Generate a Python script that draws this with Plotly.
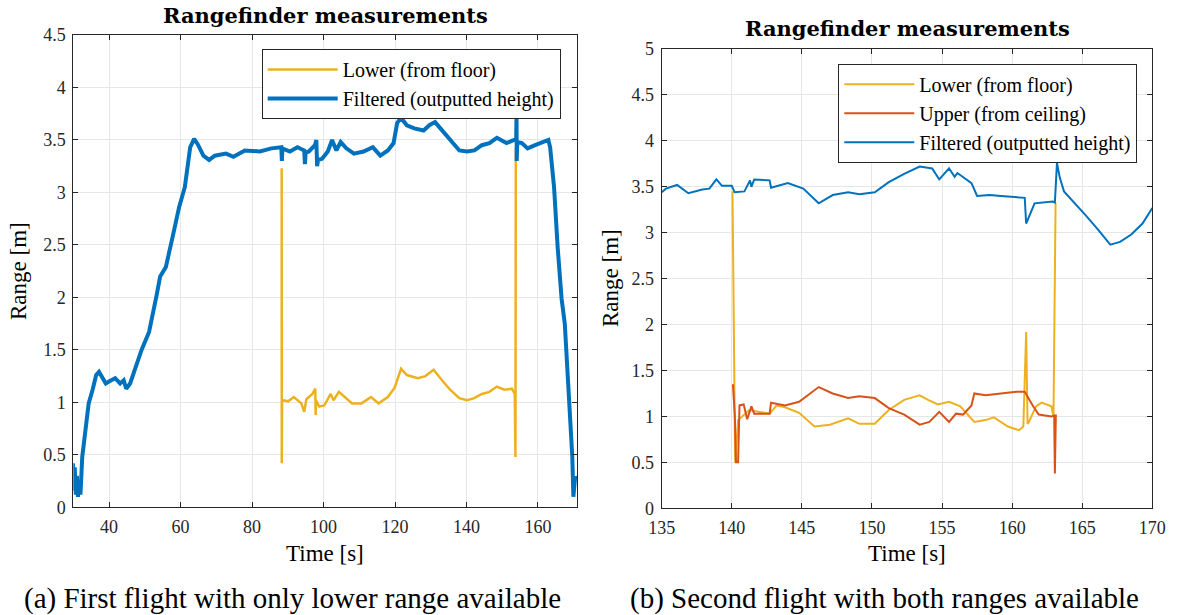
import plotly.graph_objects as go

W, H = 1178, 615

# ---------------- Flight (a): lower rangefinder only ----------------
t_a_filt = [29.9, 30.1, 30.4, 30.7, 31.0, 31.3, 31.7, 32.0, 32.5, 33.3, 34.3, 35.4, 36.4,
            37.2, 38.0, 39.1, 40.1, 41.7, 43.1, 44.1, 44.8, 45.9, 47.5, 49.1, 51.2, 52.2,
            53.3, 54.3, 55.9, 58.0, 59.6, 61.2, 62.7, 63.8, 64.8, 66.4, 68.0, 69.6, 72.7,
            74.8, 78.0, 82.2, 85.4, 88.2, 88.35, 88.5, 90.6, 92.7, 94.6, 94.8, 95.0, 95.9,
            97.6, 98.0, 98.2, 98.5, 99.6, 101.2, 102.4, 103.6, 104.8, 106.4, 108.5, 111.2,
            113.8, 115.9, 118.0, 119.6, 120.6, 121.7, 123.3, 125.4, 128.0, 129.6, 131.2,
            132.7, 135.4, 138.0, 140.1, 142.2, 144.3, 146.4, 148.5, 151.2, 153.3, 153.9,
            154.0, 154.05, 154.2, 155.5, 157.1, 159.2, 161.3, 162.9, 163.4, 164.5, 165.5,
            166.6, 167.5, 168.5, 169.6, 169.9, 170.4, 171.0]
h_a_filt = [0.42, 0.16, 0.38, 0.12, 0.30, 0.10, 0.25, 0.12, 0.48, 0.74, 0.99, 1.12, 1.26,
            1.29, 1.25, 1.18, 1.20, 1.23, 1.18, 1.21, 1.13, 1.18, 1.34, 1.50, 1.67, 1.82,
            2.02, 2.20, 2.29, 2.61, 2.86, 3.05, 3.43, 3.51, 3.46, 3.35, 3.31, 3.35, 3.37,
            3.34, 3.40, 3.39, 3.42, 3.43, 3.30, 3.42, 3.39, 3.43, 3.40, 3.27, 3.38, 3.39,
            3.45, 3.50, 3.25, 3.31, 3.32, 3.39, 3.50, 3.40, 3.48, 3.42, 3.37, 3.39,
            3.43, 3.35, 3.40, 3.47, 3.66, 3.71, 3.64, 3.61, 3.59, 3.64, 3.67,
            3.61, 3.50, 3.40, 3.39, 3.40, 3.45, 3.47, 3.52, 3.47, 3.50, 3.50,
            3.78, 3.30, 3.48, 3.47, 3.42, 3.45, 3.48, 3.50, 3.43, 3.05, 2.48,
            1.99, 1.75, 1.12, 0.48, 0.10, 0.29, 0.26]

t_a_low = [88.3, 88.32, 88.4, 88.7, 90.1, 91.7, 93.8, 94.6, 95.2, 96.9, 97.7, 97.8, 97.9,
           98.8, 100.2, 102.0, 102.8, 104.3, 105.9, 108.0, 110.6, 113.3, 115.4, 118.0,
           119.9, 121.7, 123.3, 126.4, 128.5, 130.8, 132.7, 135.4, 138.0, 140.1, 142.2,
           144.3, 146.4, 148.5, 150.6, 152.7, 153.5, 153.7, 153.8]
h_a_low = [3.23, 0.42, 1.02, 1.02, 1.01, 1.05, 0.99, 0.91, 1.03, 1.08, 1.13, 0.88, 1.02,
           0.96, 0.97, 1.08, 1.02, 1.10, 1.05, 0.99, 0.99, 1.05, 0.99, 1.05,
           1.14, 1.32, 1.26, 1.23, 1.25, 1.31, 1.23, 1.12, 1.04, 1.02, 1.04,
           1.08, 1.10, 1.15, 1.12, 1.13, 1.08, 0.48, 3.42]

# ---------------- Flight (b): lower and upper rangefinders ----------------
t_b_filt = [135.0, 135.3, 136.1, 136.9, 137.9, 138.4, 138.9, 139.3, 140.0, 140.2, 140.9,
            141.3, 141.4, 141.6, 142.7, 142.8, 144.0, 145.1, 146.2, 147.2, 148.3, 149.1,
            150.2, 151.2, 152.3, 153.4, 154.3, 154.8, 155.5, 155.9, 156.1, 157.1, 157.5,
            158.4, 159.2, 160.9, 161.0, 161.6, 162.9, 163.05, 163.2, 163.4, 163.7, 164.5,
            165.3, 166.1, 167.0, 167.7, 168.5, 169.3, 170.0]
h_b_filt = [3.44, 3.48, 3.52, 3.43, 3.47, 3.48, 3.58, 3.51, 3.51, 3.44, 3.45,
            3.57, 3.50, 3.58, 3.57, 3.49, 3.54, 3.48, 3.32, 3.41, 3.44, 3.42,
            3.44, 3.55, 3.64, 3.72, 3.70, 3.58, 3.70, 3.61, 3.65, 3.54, 3.40,
            3.41, 3.40, 3.38, 3.10, 3.32, 3.34, 3.33, 3.76, 3.60, 3.45, 3.32,
            3.18, 3.04, 2.87, 2.90, 2.98, 3.10, 3.27]

t_b_low = [140.05, 140.24, 140.45, 140.85, 141.25, 142.7, 143.2, 143.8, 144.8, 145.9,
           147.0, 148.3, 149.1, 150.2, 151.2, 152.3, 153.4, 154.0, 154.7, 155.5, 156.3,
           157.3, 158.1, 158.7, 159.2, 159.7, 160.5, 160.8, 161.0, 161.1, 161.2, 161.7,
           162.1, 162.8, 162.95, 163.1]
h_b_low = [3.45, 0.50, 0.96, 1.02, 1.07, 1.03, 1.12, 1.10, 1.04, 0.89,
           0.91, 0.98, 0.92, 0.92, 1.07, 1.18, 1.23, 1.18, 1.13, 1.16, 1.11,
           0.94, 0.96, 0.99, 0.94, 0.89, 0.85, 0.89, 1.92, 0.92, 0.94, 1.11,
           1.15, 1.11, 1.00, 3.33]

t_b_up = [140.08, 140.22, 140.3, 140.45, 140.55, 140.85, 141.1, 141.4, 141.6, 142.7,
          142.8, 143.8, 144.8, 145.6, 146.2, 147.2, 148.3, 149.1, 150.2, 151.2, 152.3,
          153.1, 153.4, 154.1, 154.8, 155.5, 156.0, 156.5, 157.1, 157.3, 158.1, 159.2,
          160.3, 160.9, 161.5, 161.9, 162.8, 163.0, 163.05, 163.12]
h_b_up = [1.35, 1.00, 0.50, 0.50, 1.12, 1.13, 0.97, 1.11, 1.03, 1.03,
          1.15, 1.12, 1.16, 1.25, 1.32, 1.25, 1.20, 1.22, 1.20, 1.09, 1.02,
          0.94, 0.91, 0.94, 1.05, 0.94, 1.03, 1.02, 1.12, 1.25, 1.23, 1.25,
          1.27, 1.27, 1.11, 1.02, 1.00, 1.01, 0.38, 1.02]

x_ticks_a = [40, 60, 80, 100, 120, 140, 160]
x_ticks_b = [135, 140, 145, 150, 155, 160, 165, 170]

COL_LOW = "#EDB120"
COL_UP = "#D95319"
COL_FILT = "#0072BD"
AX = "#262626"
GRID = "#e6e6e6"
FONT = "Liberation Serif"
TITLE_FONT = "DejaVu Serif"


def fx(px):
    return px / W


def fy(px):
    return 1 - px / H


fig = go.Figure()

fig.add_trace(go.Scatter(x=t_a_low, y=h_a_low, mode="lines", name="Lower (from floor)",
                         line=dict(color=COL_LOW, width=2.5), xaxis="x", yaxis="y",
                         legend="legend"))
fig.add_trace(go.Scatter(x=t_a_filt, y=h_a_filt, mode="lines",
                         name="Filtered (outputted height)",
                         line=dict(color=COL_FILT, width=4), xaxis="x", yaxis="y",
                         legend="legend"))

fig.add_trace(go.Scatter(x=t_b_low, y=h_b_low, mode="lines", name="Lower (from floor)",
                         line=dict(color=COL_LOW, width=2), xaxis="x2", yaxis="y2",
                         legend="legend2"))
fig.add_trace(go.Scatter(x=t_b_up, y=h_b_up, mode="lines", name="Upper (from ceiling)",
                         line=dict(color=COL_UP, width=2), xaxis="x2", yaxis="y2",
                         legend="legend2"))
fig.add_trace(go.Scatter(x=t_b_filt, y=h_b_filt, mode="lines",
                         name="Filtered (outputted height)",
                         line=dict(color=COL_FILT, width=2), xaxis="x2", yaxis="y2",
                         legend="legend2"))

axis_style = dict(showline=True, linecolor=AX, linewidth=1, mirror="ticks",
                  ticks="inside", ticklen=5, tickcolor=AX, showgrid=True,
                  gridcolor=GRID, gridwidth=1, zeroline=False, automargin=False,
                  tickfont=dict(family=FONT, size=18, color=AX))

legend_style = dict(xanchor="right", yanchor="top", bordercolor=AX, borderwidth=1,
                    bgcolor="white", font=dict(family=FONT, size=20, color="black"),
                    itemwidth=70)

fig.update_layout(
    width=W, height=H,
    margin=dict(l=0, r=0, t=0, b=0, pad=0, autoexpand=False),
    paper_bgcolor="white", plot_bgcolor="white",
    font=dict(family=FONT, color=AX),
    xaxis=dict(domain=[fx(73.3), fx(577.3)], range=[30, 171], tickvals=x_ticks_a,
               anchor="y", ticklabelstandoff=3, **axis_style),
    yaxis=dict(domain=[fy(507.3), fy(35)], range=[0, 4.5], dtick=0.5, tick0=0,
               anchor="x", ticklabelstandoff=3, **axis_style),
    xaxis2=dict(domain=[fx(661.7), fx(1152.3)], range=[135, 170], tickvals=x_ticks_b,
                anchor="y2", ticklabelstandoff=3, **axis_style),
    yaxis2=dict(domain=[fy(508.3), fy(49)], range=[0, 5], dtick=0.5, tick0=0,
                anchor="x2", ticklabelstandoff=3, **axis_style),
    legend=dict(x=fx(560.7), y=fy(49), **legend_style),
    legend2=dict(x=fx(1137.3), y=fy(63.7), **legend_style),
)

texts = [
    ("<b>Rangefinder measurements</b>", 325.3, 15, 21, 0, TITLE_FONT),
    ("<b>Rangefinder measurements</b>", 907, 29, 21, 0, TITLE_FONT),
    ("Time [s]", 325.3, 553, 23, 0, FONT),
    ("Time [s]", 907, 553, 23, 0, FONT),
    ("Range [m]", 18, 271, 23, -90, FONT),
    ("Range [m]", 610, 278, 23, -90, FONT),
    ("(a) First flight with only lower range available", 292, 598, 29, 0, FONT),
    ("(b) Second flight with both ranges available", 884, 598, 29, 0, FONT),
]
for txt, xp, yp, size, ang, fam in texts:
    fig.add_annotation(text=txt, x=fx(xp), y=fy(yp), xref="paper", yref="paper",
                       xanchor="center", yanchor="middle", showarrow=False,
                       textangle=ang, font=dict(family=fam, size=size, color="black"))

fig.write_html("out.html")
